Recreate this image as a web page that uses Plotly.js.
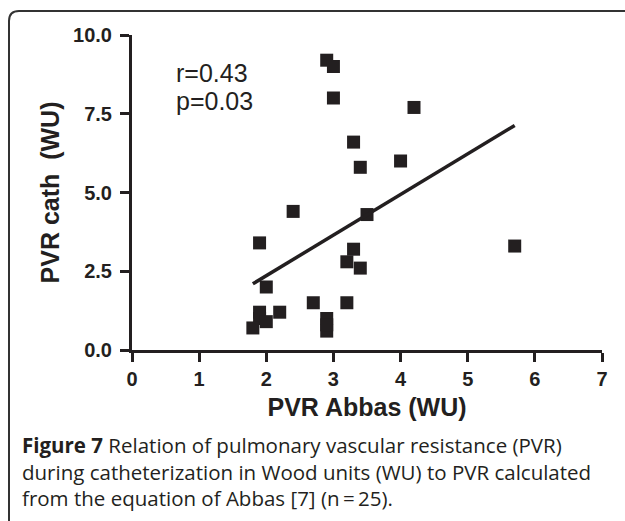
<!DOCTYPE html>
<html>
<head>
<meta charset="utf-8">
<script src="https://cdn.plot.ly/plotly-3.0.1.min.js"></script>
<style>
  html, body { margin: 0; padding: 0; background: #ffffff; }
  #chart { width: 625px; height: 521px; }
</style>
</head>
<body>
<div id="chart"></div>
<script>
// PVR calculated from the Abbas equation (WU)
var pvrAbbas = [2.9, 3.0, 3.0, 4.2, 3.3, 4.0, 3.4, 2.4, 3.5, 1.9, 3.3, 3.2, 5.7, 3.4, 2.0, 2.7, 3.2, 2.2, 1.9, 1.9, 2.0, 2.9, 2.9, 1.8, 2.9];
// PVR measured during catheterization (WU)
var pvrCath  = [9.2, 9.0, 8.0, 7.7, 6.6, 6.0, 5.8, 4.4, 4.3, 3.4, 3.2, 2.8, 3.3, 2.6, 2.0, 1.5, 1.5, 1.2, 1.2, 1.0, 0.9, 1.0, 0.6, 0.7, 0.8];
// regression line end points
var fitX = [1.8, 5.7];
var fitY = [2.1, 7.13];
var xTicks = [0, 1, 2, 3, 4, 5, 6, 7];
var yTicks = [0, 2.5, 5, 7.5, 10];
var yTickText = ["0.0", "2.5", "5.0", "7.5", "10.0"];
var statsText = ["r=0.43", "p=0.03"];
var captionLines = [
  "<b>Figure 7</b> Relation of pulmonary vascular resistance (PVR)",
  "during catheterization in Wood units (WU) to PVR calculated",
  "from the equation of Abbas [7] (n\u2009=\u200925)."
];

var INK = "#231f20";
var W = 625, H = 521;
var L = 132, R = 602, T = 35, B = 350;
function px(x) { return (x - L) / (R - L); }
function py(y) { return (B - y) / (B - T); }

var traces = [
  {
    x: pvrAbbas, y: pvrCath, type: "scatter", mode: "markers",
    marker: { symbol: "square", size: 13, color: INK, line: { width: 0 } },
    hoverinfo: "x+y", showlegend: false, cliponaxis: false
  },
  {
    x: fitX, y: fitY, type: "scatter", mode: "lines",
    line: { color: INK, width: 3.5 },
    hoverinfo: "skip", showlegend: false
  }
];

var tickFont = { family: "Liberation Sans, Arial, sans-serif", size: 20, color: INK, weight: "bold" };
var titleFont = { family: "Liberation Sans, Arial, sans-serif", size: 25, color: INK, weight: "bold" };
var capFont = { family: "Open Sans, sans-serif", size: 20.5, color: INK };

var annotations = [
  { text: statsText[0], xref: "paper", yref: "paper", x: px(174), y: py(73), xanchor: "left", yanchor: "middle", showarrow: false,
    font: { family: "Liberation Sans, Arial, sans-serif", size: 25, color: INK } },
  { text: statsText[1], xref: "paper", yref: "paper", x: px(174), y: py(101), xanchor: "left", yanchor: "middle", showarrow: false,
    font: { family: "Liberation Sans, Arial, sans-serif", size: 25, color: INK } },
  { text: captionLines.join("<br>"), xref: "paper", yref: "paper", x: px(20), y: py(471), xanchor: "left", yanchor: "middle",
    showarrow: false, align: "left", font: capFont }
];

var layout = {
  width: W, height: H,
  margin: { l: L, r: W - R, t: T, b: H - B, pad: 0 },
  paper_bgcolor: "#ffffff", plot_bgcolor: "#ffffff",
  showlegend: false,
  xaxis: {
    range: [0, 7], tickmode: "array", tickvals: xTicks, ticktext: xTicks.map(String),
    showgrid: false, zeroline: false, showline: true, linecolor: INK, linewidth: 3,
    ticks: "outside", ticklen: 9, tickwidth: 3, tickcolor: INK, tickfont: tickFont,
    title: { text: "PVR Abbas (WU)", font: titleFont, standoff: 10 }
  },
  yaxis: {
    range: [0, 10], tickmode: "array", tickvals: yTicks, ticktext: yTickText,
    showgrid: false, zeroline: false, showline: true, linecolor: INK, linewidth: 3,
    ticks: "outside", ticklen: 9, tickwidth: 3, tickcolor: INK, tickfont: tickFont,
    ticklabelstandoff: 4,
    title: { text: "PVR cath\u00a0 (WU)", font: titleFont, standoff: 7 }
  },
  annotations: annotations,
  shapes: [
    { type: "path", xref: "paper", yref: "paper",
      path: "M " + px(9) + " " + py(521) + " L " + px(9) + " " + py(21) +
            " Q " + px(9) + " " + py(11) + " " + px(19) + " " + py(11) +
            " L " + px(625) + " " + py(11),
      line: { color: "#333333", width: 2 } }
  ]
};

Plotly.newPlot("chart", traces, layout, { displayModeBar: false, staticPlot: true });
</script>
</body>
</html>
